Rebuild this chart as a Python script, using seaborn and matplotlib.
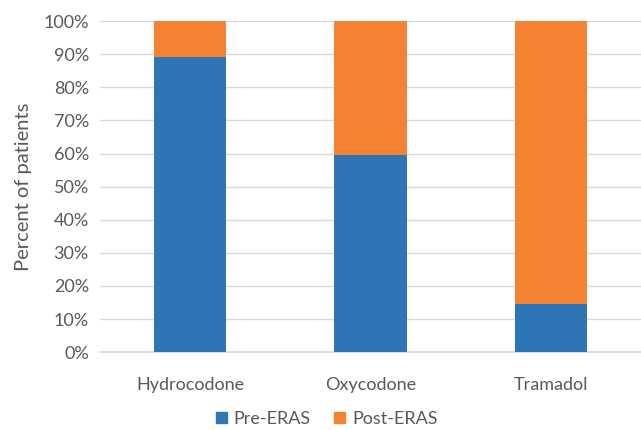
import pandas as pd
import numpy as np
import matplotlib
matplotlib.use("Agg")
import matplotlib.pyplot as plt
import seaborn as sns
from matplotlib.patches import Patch
from matplotlib.ticker import PercentFormatter

drugs = ["Hydrocodone", "Oxycodone", "Tramadol"]
pre_eras = [89.0, 59.4, 14.4]
post_eras = [11.0, 40.6, 85.6]

blue = "#2E75B6"
orange = "#F58232"
grey = "#595959"

sns.set_theme(style="white")
plt.rcParams["font.family"] = ["Lato", "DejaVu Sans"]

df = pd.DataFrame({"drug": drugs, "pre": pre_eras, "post": post_eras})
df["total"] = df["pre"] + df["post"]

fig, ax = plt.subplots(figsize=(6.41, 4.30), dpi=100)
fig.subplots_adjust(left=0.156, right=1.0, top=0.951, bottom=0.181)

# total bar first (orange), then pre-ERAS on top of it (blue)
sns.barplot(data=df, x="drug", y="total", color=orange, width=0.4, saturation=1,
            linewidth=0, ax=ax, zorder=2)
sns.barplot(data=df, x="drug", y="pre", color=blue, width=0.4, saturation=1,
            linewidth=0, ax=ax, zorder=3)

ax.set_ylim(0, 100)
ax.set_xlim(-0.5, 2.5)
ax.set_yticks(np.arange(0, 101, 10))
ax.yaxis.set_major_formatter(PercentFormatter(decimals=0))
ax.grid(axis="y", color="#D9D9D9", linewidth=1, zorder=0)
ax.set_axisbelow(True)
for s in ["top", "right", "left"]:
    ax.spines[s].set_visible(False)
ax.spines["bottom"].set_color("#D9D9D9")
ax.tick_params(axis="both", colors=grey, labelsize=13, length=0, pad=8)
ax.tick_params(axis="x", pad=18)
ax.set_xlabel("")
ax.set_ylabel("Percent of patients", color=grey, fontsize=14.5, labelpad=8)

handles = [Patch(color=blue, label="Pre-ERAS"), Patch(color=orange, label="Post-ERAS")]
leg = fig.legend(handles=handles, loc="lower center", bbox_to_anchor=(0.51, -0.03), ncol=2,
                 frameon=False, fontsize=13, handlelength=0.6, handleheight=0.6,
                 handletextpad=0.4, columnspacing=1.3)
for t in leg.get_texts():
    t.set_color(grey)

fig.savefig("out.png", dpi=100)
